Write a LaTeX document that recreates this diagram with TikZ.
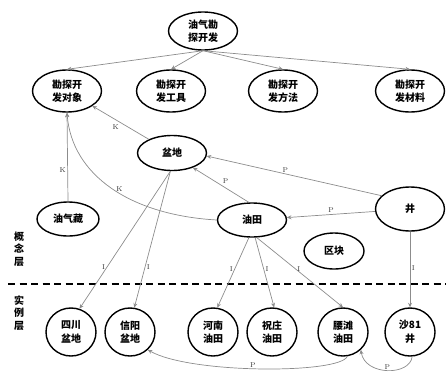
\documentclass[tikz,border=0pt]{standalone}
\usepackage{fontspec}
\newfontfamily\cjk{Noto Sans CJK SC}
\usetikzlibrary{shapes.geometric,arrows.meta}
\begin{document}
\begin{tikzpicture}[x=1pt,y=-1pt,
  cnode/.style={ellipse,draw=black,line width=1.4pt,minimum width=69pt,minimum height=38pt,inner sep=0pt,
    font=\cjk\bfseries\fontsize{10}{13.5}\selectfont,align=center},
  inode/.style={cnode,minimum width=50pt,minimum height=48pt},
  link/.style={draw=gray!90,line width=0.7pt,-{Stealth[length=4.5pt,width=4pt]}},
  lab/.style={font=\fontsize{7}{8}\selectfont,text=gray!40!black,inner sep=1.5pt},
  layer/.style={font=\cjk\bfseries\fontsize{10}{12.5}\selectfont,align=center,inner sep=0pt}
]
\useasboundingbox (0,0) rectangle (446,372);
% concept nodes
\node[cnode] (root) at (203,31) {油气勘\\探开发};
\node[cnode,minimum height=42pt] (obj) at (67,91) {勘探开\\发对象};
\node[cnode,minimum height=42pt] (tool) at (171,91) {勘探开\\发工具};
\node[cnode,minimum height=42pt] (meth) at (283,91) {勘探开\\发方法};
\node[cnode,minimum height=42pt] (mat) at (410,91) {勘探开\\发材料};
\node[cnode,minimum height=35pt] (pd) at (172,153) {盆地};
\node[cnode,minimum width=62pt,minimum height=34pt] (yqz) at (68,219) {油气藏};
\node[cnode,minimum height=34pt] (yt) at (252,220) {油田};
\node[cnode,minimum height=44pt] (jing) at (410,209) {井};
\node[cnode,minimum width=60pt,minimum height=36pt] (qk) at (334,251) {区块};
% instance nodes
\node[inode] (sc) at (71,332) {四川\\盆地};
\node[inode] (xy) at (130,332) {信阳\\盆地};
\node[inode] (hn) at (213,332) {河南\\油田};
\node[inode] (zz) at (272,332) {祝庄\\油田};
\node[inode] (yaot) at (343,332) {腰滩\\油田};
\node[inode] (s81) at (410,332) {沙81\\井};
% layer labels
\node[layer] (l1) at (19,249) {概\\念\\层};
\node[layer] (l2) at (19,313) {实\\例\\层};
\draw[line width=1.6pt,dash pattern=on 7pt off 4.5pt] (8,284) -- (446,284);
% top edges
\draw[link] (root.south) -- (obj.north);
\draw[link] (root.south) -- (tool.north);
\draw[link] (root.south) -- (meth.north);
\draw[link] (root.south) -- (mat.north);
% K edges
\draw[link] (pd) -- node[lab,below left]{K} (obj);
\draw[link] (yqz.north) -- node[lab,pos=0.35,left]{K} (obj.south);
\draw[link] (yt.west) .. controls (130,215) and (72,175) .. node[lab,pos=0.45,above]{K} (obj.south);
% P edges
\draw[link] (jing.155) -- node[lab,pos=0.55,above]{P} (pd.-5);
\draw[link] (yt.100) -- node[lab,above right]{P} (pd.-35);
\draw[link] (jing) -- node[lab,above]{P} (yt);
% I edges
\draw[link] (pd.-95) -- node[lab,pos=0.7,left]{I} (sc.70);
\draw[link] (pd.-95) -- node[lab,pos=0.7,right]{I} (xy.80);
\draw[link] (yt.-100) -- node[lab,pos=0.45,left]{I} (hn.80);
\draw[link] (yt.-80) -- node[lab,pos=0.45,right]{I} (zz.85);
\draw[link] (yt.-75) -- node[lab,pos=0.45,right]{I} (yaot.north);
\draw[link] (jing.south) -- node[lab,pos=0.48,right]{I} (s81.north);
% bottom P curves
\draw[link] (yaot.-80) .. controls (340,374) and (190,374) .. node[lab,pos=0.53,above,inner sep=0.3pt]{P} (xy.-45);
\draw[link] (s81.-85) .. controls (410,376) and (365,376) .. node[lab,pos=0.5,above,inner sep=0.3pt]{P} (yaot.-45);
\end{tikzpicture}
\end{document}
